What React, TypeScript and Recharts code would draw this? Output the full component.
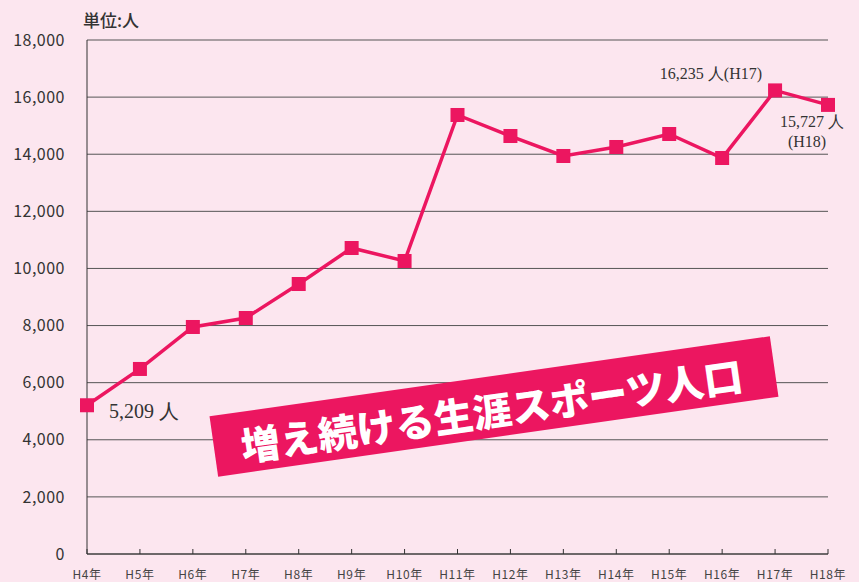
import { LineChart, Line, XAxis, YAxis, CartesianGrid, LabelList } from "recharts";

const years = ["H4年", "H5年", "H6年", "H7年", "H8年", "H9年", "H10年", "H11年", "H12年", "H13年", "H14年", "H15年", "H16年", "H17年", "H18年"];
const population = [5209, 6480, 7950, 8265, 9455, 10716, 10261, 15374, 14638, 13938, 14253, 14708, 13868, 16235, 15727];
const yTicks = [0, 2000, 4000, 6000, 8000, 10000, 12000, 14000, 16000, 18000];

const BG = "#fce6ef";
const PINK = "#ec1660";

const data = years.map((year, i) => ({ year, value: population[i] }));

const SquareDot = (props: any) => {
    const { cx, cy, index } = props;
    if (cx == null || cy == null) return null;
    return <rect key={index} x={cx - 7} y={cy - 7} width={14} height={14} fill={PINK} />;
};

const XTick = (props: any) => {
    const { x, y, payload } = props;
    return (
        <g>
            <line x1={x} y1={y} x2={x} y2={y - 5} stroke="#333" strokeWidth={1} />
            <text
                x={x}
                y={y + 25}
                textAnchor="middle"
                fontSize={12}
                letterSpacing={0.6}
                fill="#444"
                fontFamily="'Noto Sans CJK JP', sans-serif"
            >
                {payload.value}
            </text>
        </g>
    );
};

const serif = "'Liberation Serif', 'DejaVu Serif', serif";

const PointNote = (props: any) => {
    const { x, y, index, value } = props;
    const txt = Number(value).toLocaleString("en-US");
    if (index === 0) {
        return (
            <text x={x + 22} y={y + 13} fontSize={20} fill="#333" fontFamily={serif}>
                {txt} 人
            </text>
        );
    }
    if (index === years.length - 2) {
        return (
            <text x={x - 13} y={y - 11} textAnchor="end" fontSize={16} fill="#333" fontFamily={serif}>
                {txt} 人(H17)
            </text>
        );
    }
    if (index === years.length - 1) {
        return (
            <g>
                <text x={x - 16} y={y + 22} textAnchor="middle" fontSize={16} fill="#333" fontFamily={serif}>
                    {txt} 人
                </text>
                <text x={x - 21} y={y + 42} textAnchor="middle" fontSize={16} fill="#333" fontFamily={serif}>
                    (H18)
                </text>
            </g>
        );
    }
    return null;
};

export default function App() {
    return (
        <div style={{ position: "fixed", left: 0, top: 0, width: 859, height: 582, background: BG, overflow: "hidden" }}>
            <LineChart width={859} height={582} data={data} margin={{ top: 40, right: 31, bottom: 0, left: 0 }}>
                <CartesianGrid vertical={false} stroke="#555" strokeWidth={1} />
                <XAxis
                    dataKey="year"
                    height={28}
                    stroke="#333"
                    tickSize={0}
                    tickMargin={0}
                    tick={<XTick />}
                    interval={0}
                />
                <YAxis
                    domain={[0, 18000]}
                    ticks={yTicks}
                    width={87}
                    stroke="#333"
                    tickLine={false}
                    tickSize={0}
                    tickMargin={22}
                    tickFormatter={(v: number) => v.toLocaleString("en-US")}
                    tick={{ fontSize: 16, fill: "#333", letterSpacing: 0.5, fontFamily: "'Noto Sans CJK JP', sans-serif" }}
                />
                <Line
                    dataKey="value"
                    stroke={PINK}
                    strokeWidth={3.5}
                    dot={<SquareDot />}
                    activeDot={false}
                    isAnimationActive={false}
                >
                    <LabelList dataKey="value" content={<PointNote />} />
                </Line>
            </LineChart>
            <svg width={859} height={582} style={{ position: "absolute", left: 0, top: 0, pointerEvents: "none" }}>
                <text x={83} y={27} fontSize={17} fontWeight={500} fill="#333" fontFamily="'Noto Sans CJK JP', sans-serif">
                    単位:人
                </text>
                <g transform="translate(494 406.5) rotate(-8.13)">
                    <rect x={-283} y={-30.5} width={566} height={61} fill={PINK} />
                    <text
                        x={-3}
                        y={2}
                        textAnchor="middle"
                        dominantBaseline="central"
                        fontSize={39}
                        fontWeight={900}
                        fill="#fff"
                        fontFamily="'Noto Sans CJK JP', sans-serif"
                    >
                        増え続ける生涯スポーツ人口
                    </text>
                </g>
            </svg>
        </div>
    );
}
